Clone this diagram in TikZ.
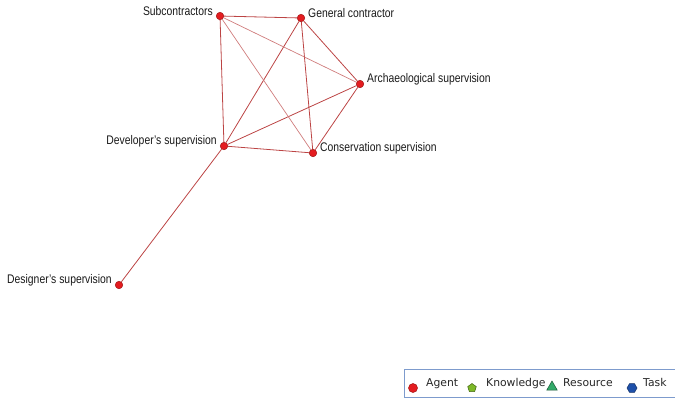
\documentclass[tikz,border=0pt]{standalone}
\usepackage{fontspec}
\setmainfont{Liberation Sans}
\newfontfamily\legendfont{DejaVu Sans}
\usepackage{xcolor}
\usepackage{graphicx}
\usetikzlibrary{shapes.geometric,backgrounds}

\definecolor{agentred}{RGB}{228,28,32}
\definecolor{agentrim}{RGB}{160,20,20}
\definecolor{linkred}{RGB}{188,68,68}
\definecolor{knowgreen}{RGB}{125,185,40}
\definecolor{resgreen}{RGB}{50,170,105}
\definecolor{taskblue}{RGB}{30,80,170}
\definecolor{framebl}{RGB}{125,155,205}

\newcommand{\narrowtxt}[1]{\scalebox{0.83}[1]{#1}}

\begin{document}
\begin{tikzpicture}[x=1pt, y=-1pt,
  agent/.style={circle, fill=agentred, draw=agentrim, line width=0.5pt, inner sep=0pt, minimum size=7.5pt},
  link/.style={draw=linkred, line width=0.8pt},
  faint/.style={draw=linkred!70, line width=0.7pt},
  lbl/.style={font=\fontsize{12.5}{14}\selectfont, text=black!90, inner sep=0pt, yshift=4.5pt},
  legtxt/.style={font=\legendfont\fontsize{10.8}{12}\selectfont, text=black!85, inner sep=0pt, anchor=base west},
  label distance=3pt]
  \useasboundingbox (0,0) rectangle (675,400);

  \node[agent, label={[lbl]left:\narrowtxt{Subcontractors}}] (sub) at (220,16) {};
  \node[agent, label={[lbl]right:\narrowtxt{General contractor}}] (gen) at (301,18) {};
  \node[agent, label={[lbl]right:\narrowtxt{Archaeological supervision}}] (arch) at (360,84) {};
  \node[agent, label={[lbl]left:\narrowtxt{Developer's supervision}}] (dev) at (224,146) {};
  \node[agent, label={[lbl]right:\narrowtxt{Conservation supervision}}] (cons) at (313,153) {};
  \node[agent, label={[lbl]left:\narrowtxt{Designer's supervision}}] (des) at (119,285) {};

  \begin{scope}[on background layer]
    \foreach \a/\b in {sub/gen, sub/dev, gen/arch, gen/dev, gen/cons, arch/dev, arch/cons, dev/cons, dev/des}
      \draw[link] (\a) -- (\b);
    \foreach \a/\b in {sub/arch, sub/cons}
      \draw[faint] (\a) -- (\b);
  \end{scope}

  % legend
  \node[draw=framebl, line width=0.9pt, anchor=north west, minimum width=290pt, minimum height=28pt, inner sep=0pt] (legend) at (404,369) {};
  \node[agent, minimum size=9pt] (kagent) at (413,388) {};
  \node[legtxt] (tagent) at (426,386) {Agent};
  \node[regular polygon, regular polygon sides=5, fill=knowgreen, draw=knowgreen!55!black, line width=0.5pt, inner sep=0pt, minimum size=9pt] (kknow) at (472,388) {};
  \node[legtxt] (tknow) at (486,386) {Knowledge};
  \node[regular polygon, regular polygon sides=3, fill=resgreen, draw=resgreen!50!black, line width=0.5pt, inner sep=0pt, minimum size=12pt] (kres) at (552,387) {};
  \node[legtxt] (tres) at (563,386) {Resource};
  \node[regular polygon, regular polygon sides=6, fill=taskblue, draw=taskblue!60!black, line width=0.5pt, inner sep=0pt, minimum size=10pt] (ktask) at (632,388) {};
  \node[legtxt] (ttask) at (643,386) {Task};
\end{tikzpicture}
\end{document}
